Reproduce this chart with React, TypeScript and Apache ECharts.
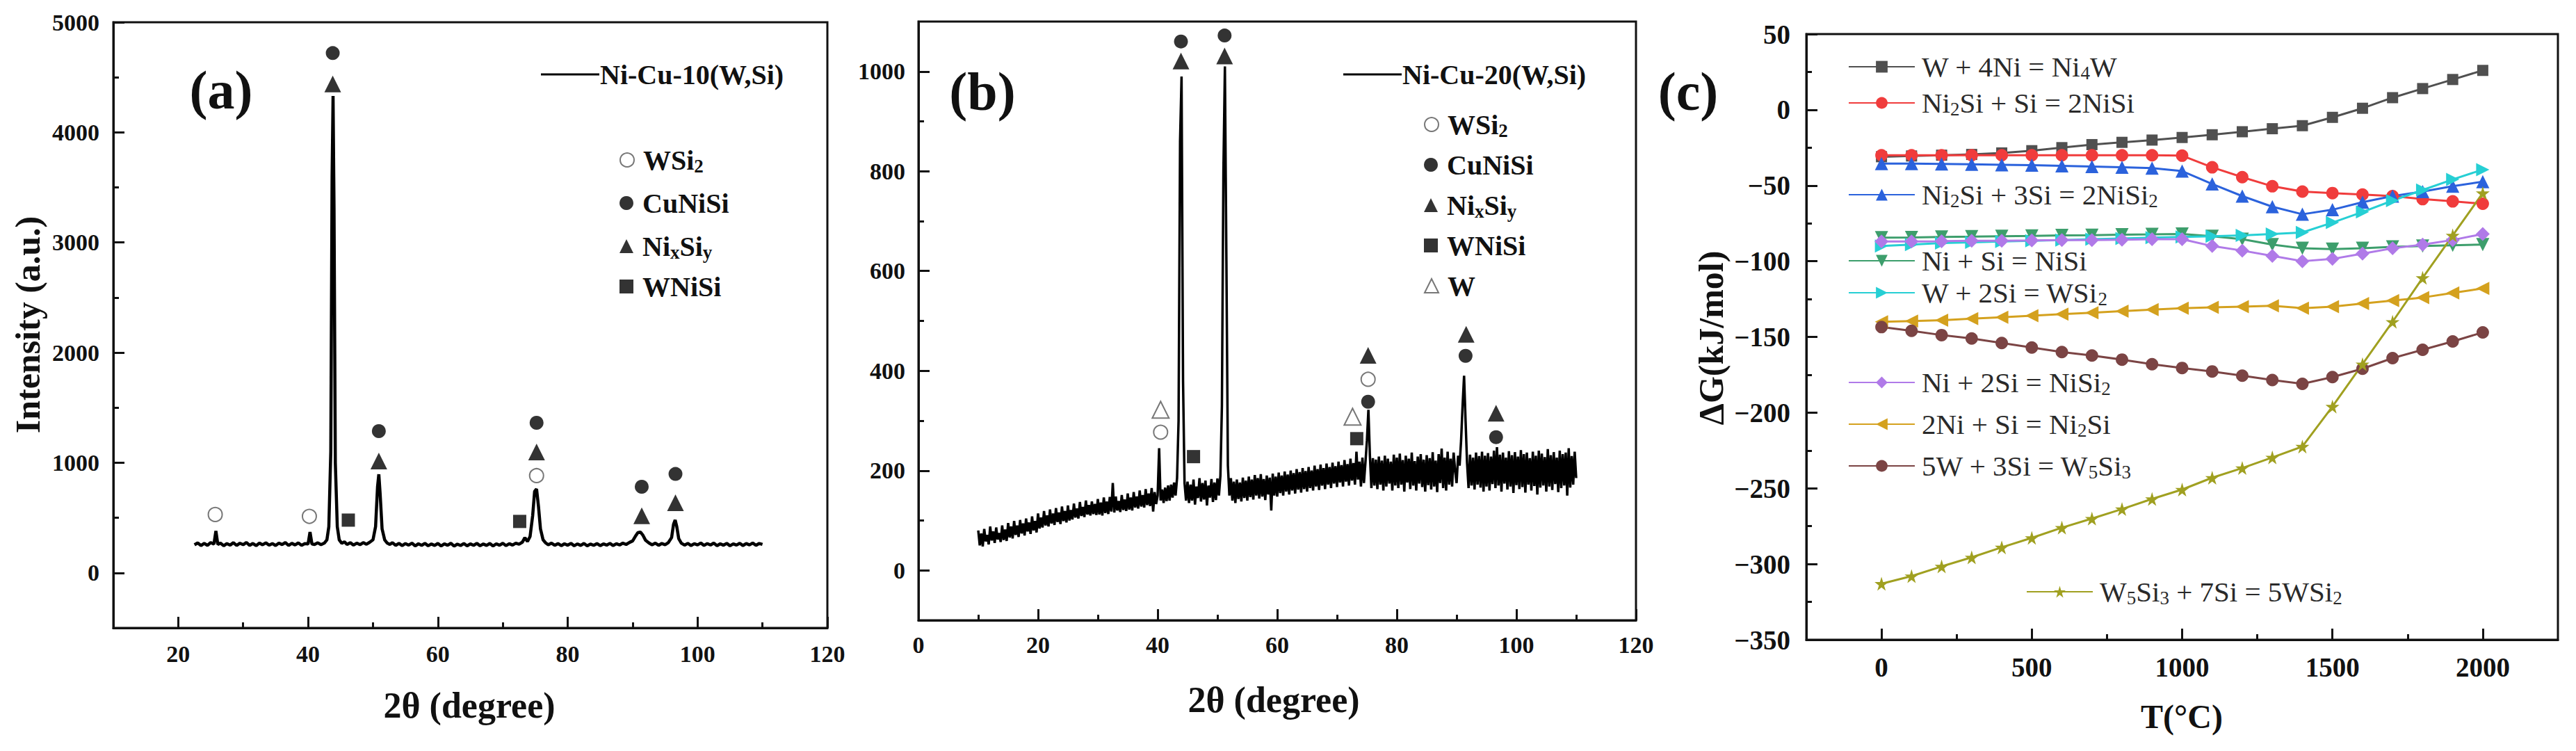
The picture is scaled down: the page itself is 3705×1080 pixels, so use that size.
import React, { useEffect, useRef } from "react";
import * as echarts from "echarts";

const SERIF = '"Liberation Serif", "Times New Roman", "DejaVu Serif", serif';
const INK = "#111111";

// ---------------- Panel (a): XRD of Ni-Cu-10(W,Si) ----------------
const A_LINE_NAME = "Ni-Cu-10(W,Si)";
const A_PATTERN: [number, number][] = [
  [22.5,255],[23,272],[23.5,248],[24,268],[24.5,250],[25,275],[25.5,262],[25.8,380],[26.1,258],[26.5,270],
  [27,246],[27.5,266],[28,252],[28.5,274],[29,249],[29.5,269],[30,256],[30.5,276],[31,250],[31.5,267],
  [32,247],[32.5,271],[33,255],[33.5,273],[34,251],[34.5,266],[35,248],[35.5,270],[36,257],[36.5,275],
  [37,249],[37.5,268],[38,254],[38.5,272],[39,250],[39.5,265],[40,262],[40.3,370],[40.6,262],[41,258],
  [41.5,273],[42,256],[42.5,270],[42.9,300],[43.2,420],[43.5,1100],[43.7,3600],[43.85,4330],[44,3300],[44.2,1000],
  [44.5,420],[44.8,300],[45.2,268],[45.6,282],[46,258],[46.5,274],[47,252],[47.5,270],[48,256],[48.5,275],
  [49,260],[49.5,278],[50,300],[50.4,420],[50.7,780],[50.9,895],[51.1,720],[51.4,400],[51.8,300],[52.2,270],
  [52.6,258],[53,274],[53.5,250],[54,268],[54.5,247],[55,266],[55.5,252],[56,270],[56.5,245],[57,264],
  [57.5,250],[58,268],[58.5,246],[59,262],[59.5,249],[60,267],[60.5,244],[61,263],[61.5,251],[62,269],
  [62.5,243],[63,261],[63.5,248],[64,266],[64.5,245],[65,263],[65.5,250],[66,268],[66.5,246],[67,262],
  [67.5,249],[68,267],[68.5,244],[69,264],[69.5,251],[70,269],[70.5,247],[71,265],[71.5,252],[72,270],
  [72.5,260],[73,278],[73.4,320],[73.8,285],[74.2,330],[74.6,520],[74.9,740],[75.2,762],[75.5,600],[75.8,400],
  [76.2,300],[76.6,272],[77,255],[77.5,270],[78,250],[78.5,266],[79,247],[79.5,264],[80,251],[80.5,268],
  [81,246],[81.5,263],[82,249],[82.5,267],[83,245],[83.5,262],[84,250],[84.5,266],[85,247],[85.5,263],
  [86,252],[86.5,268],[87,248],[87.5,265],[88,253],[88.5,270],[89,258],[89.5,276],[90,290],[90.4,330],
  [90.8,365],[91.2,370],[91.6,340],[92,295],[92.5,272],[93,255],[93.5,270],[94,250],[94.5,267],[95,256],
  [95.5,275],[96,320],[96.3,440],[96.55,480],[96.8,420],[97.1,310],[97.5,270],[98,252],[98.5,268],[99,248],
  [99.5,265],[100,254],[100.5,271],[101,249],[101.5,266],[102,253],[102.5,270],[103,247],[103.5,264],[104,251],
  [104.5,268],[105,246],[105.5,263],[106,252],[106.5,269],[107,248],[107.5,266],[108,254],[108.5,271],[109,250],
  [109.5,267],[110,258],
];
const A_WSI2: [number, number][] = [[25.7,530],[40.2,513],[75.2,883]];
const A_CUNISI: [number, number][] = [[43.8,4720],[50.9,1287],[75.2,1363],[91.4,782],[96.6,898]];
const A_NIXSIY: [number, number][] = [[43.8,4440],[50.9,1015],[75.2,1098],[91.4,519],[96.6,637]];
const A_WNISI: [number, number][] = [[46.2,479],[72.6,467]];
const A_X_TICKS = [20, 40, 60, 80, 100, 120];
const A_X_MINOR = [30, 50, 70, 90, 110];
const A_Y_TICKS = [0, 1000, 2000, 3000, 4000, 5000];
const A_Y_MINOR = [500, 1500, 2500, 3500, 4500];

// ---------------- Panel (b): XRD of Ni-Cu-20(W,Si) ----------------
const B_LINE_NAME = "Ni-Cu-20(W,Si)";
const B_SCAN_START = 10;
const B_SCAN_STEP = 0.25;
const B_INTENSITY = [
  80,50,74,48,83,58,71,52,88,60,78,55,86,62,75,57,90,61,82,59,
  95,66,88,64,99,71,90,67,101,74,94,70,104,78,96,73,108,80,99,76,
  114,84,106,86,119,90,110,88,122,94,114,91,125,97,116,93,128,99,119,96,
  130,100,121,102,134,106,124,104,137,109,127,107,140,112,131,110,138,113,133,111,
  143,112,136,110,146,115,138,113,147,118,175,116,148,120,139,117,151,121,142,119,
  154,122,146,120,157,126,148,124,160,128,151,126,163,131,154,129,165,118,157,133,
  150,245,140,162,135,166,139,170,140,172,146,176,150,185,300,860,990,380,175,140,
  178,135,172,140,182,132,168,145,185,138,175,142,180,130,170,146,183,137,176,141,
  184,150,190,330,800,1010,620,210,150,185,140,178,135,182,143,176,138,186,145,180,
  140,188,147,182,142,191,150,185,144,193,148,183,141,190,152,186,120,194,150,188,
  148,196,155,190,150,198,158,192,152,200,160,195,154,203,162,197,156,205,163,199,
  158,207,165,200,160,210,168,203,161,212,170,205,163,214,172,207,165,216,174,209,
  167,218,176,211,168,221,178,213,170,224,180,215,172,238,182,218,168,226,175,215,
  260,322,230,165,225,170,222,163,228,172,220,160,230,168,224,174,218,160,232,170,
  226,165,234,172,221,158,230,176,224,163,236,170,219,160,228,174,233,167,222,158,
  231,171,225,162,237,168,220,157,233,175,244,165,226,160,238,172,224,168,236,200,
  175,230,210,260,330,390,300,215,165,232,170,226,162,236,172,229,166,238,158,230,
  168,235,160,228,173,240,165,247,170,232,158,236,174,226,162,239,168,231,155,237,
  171,228,163,241,167,233,156,236,172,225,160,238,169,230,152,240,166,234,170,227,
  158,243,168,231,161,237,173,226,157,240,165,233,170,236,150,245,166,229,172,238,
  185,
];
const B_WSI2: [number, number][] = [[40.5,277],[75.2,383]];
const B_CUNISI: [number, number][] = [[43.9,1060],[51.2,1072],[75.2,338],[91.5,430],[96.6,267]];
const B_NIXSIY: [number, number][] = [[43.9,1021],[51.2,1031],[75.2,431],[91.6,473],[96.6,315]];
const B_WNISI: [number, number][] = [[46.0,228],[73.3,264]];
const B_W: [number, number][] = [[40.5,322],[72.6,308]];
const B_X_TICKS = [0, 20, 40, 60, 80, 100, 120];
const B_X_MINOR = [10, 30, 50, 70, 90, 110];
const B_Y_TICKS = [0, 200, 400, 600, 800, 1000];
const B_Y_MINOR = [100, 300, 500, 700, 900];

// ---------------- Panel (c): Gibbs free energy vs temperature ----------------
const T_VALUES = [0,100,200,300,400,500,600,700,800,900,1000,1100,1200,1300,1400,1500,1600,1700,1800,1900,2000];
const G_NI4W = [-31,-30.5,-30,-29.5,-28.5,-27,-25,-23,-21.5,-20,-18.3,-16.5,-14.5,-12.5,-10.5,-5,1,8,14,20,26];
const G_NISI_FROM_NI2SI = [-30,-30,-30,-30,-30,-30,-30,-30,-30,-30,-30.3,-38,-44.5,-50.5,-54,-55,-56,-57,-59,-60.5,-62];
const G_NISI2_FROM_NI2SI = [-35.5,-35.5,-35.8,-36,-36.3,-36.6,-37,-37.5,-38,-38.5,-40.5,-49,-57,-64,-69,-66,-61,-57,-54,-50.5,-47.5];
const G_NISI = [-84.5,-84.3,-84,-83.8,-83.5,-83.3,-83,-82.8,-82.5,-82.3,-82,-83.5,-85.5,-89,-91.5,-92,-91.5,-90.5,-90,-89.5,-89];
const G_WSI2 = [-90,-89,-88,-87.5,-87,-86.5,-86,-85.5,-85,-84.5,-84,-83.5,-83,-82,-81,-74.5,-67.5,-60,-53,-46,-39.5];
const G_NISI2 = [-87,-87,-86.8,-86.5,-86.5,-86.3,-86,-86,-85.8,-85.5,-85.5,-90,-93,-96.5,-100,-98.5,-95,-91.5,-89,-86,-82];
const G_NI2SI = [-140,-139.5,-139,-138,-137,-136,-135,-134,-133,-132,-131,-130.5,-130,-129.5,-131,-130,-128,-126,-124,-121,-118];
const G_W5SI3 = [-143.5,-146,-148.8,-151,-154,-157,-160,-162.3,-165,-168,-170.5,-172.8,-175.6,-178.5,-181,-176.5,-171,-164,-158.5,-153,-147];
const G_WSI2_FROM_W5SI3 = [-313,-308,-301.6,-295.6,-289,-282.7,-276,-270,-263.7,-257,-250.8,-243,-236.6,-229.6,-222.4,-196,-168,-140,-111,-83,-55];
const C_X_TICKS = [0, 500, 1000, 1500, 2000];
const C_X_MINOR = [250, 750, 1250, 1750];
const C_Y_TICKS = [-350, -300, -250, -200, -150, -100, -50, 0, 50];
const C_Y_MINOR = [-325, -275, -225, -175, -125, -75, -25, 25];

const STAR = "path://M50,0 L61,35 L98,35 L68,57 L79,91 L50,70 L21,91 L32,57 L2,35 L39,35 Z";

const C_SERIES = [
  { name: "W + 4Ni = Ni4W", rich: "W + 4Ni = Ni{s|4}W", color: "#505050", symbol: "rect", rotate: 0, size: 16, values: G_NI4W },
  { name: "Ni2Si + Si = 2NiSi", rich: "Ni{s|2}Si + Si = 2NiSi", color: "#f03c3c", symbol: "circle", rotate: 0, size: 18, values: G_NISI_FROM_NI2SI },
  { name: "Ni2Si + 3Si = 2NiSi2", rich: "Ni{s|2}Si + 3Si = 2NiSi{s|2}", color: "#2b62dc", symbol: "triangle", rotate: 0, size: 19, values: G_NISI2_FROM_NI2SI },
  { name: "Ni + Si = NiSi", rich: "Ni + Si = NiSi", color: "#3d9e6c", symbol: "triangle", rotate: 180, size: 19, values: G_NISI },
  { name: "W + 2Si = WSi2", rich: "W + 2Si = WSi{s|2}", color: "#26cfd4", symbol: "triangle", rotate: -90, size: 19, values: G_WSI2 },
  { name: "Ni + 2Si = NiSi2", rich: "Ni + 2Si = NiSi{s|2}", color: "#b07ae8", symbol: "diamond", rotate: 0, size: 20, values: G_NISI2 },
  { name: "2Ni + Si = Ni2Si", rich: "2Ni + Si = Ni{s|2}Si", color: "#d4a11e", symbol: "triangle", rotate: 90, size: 19, values: G_NI2SI },
  { name: "5W + 3Si = W5Si3", rich: "5W + 3Si = W{s|5}Si{s|3}", color: "#7b4444", symbol: "circle", rotate: 0, size: 18, values: G_W5SI3 },
  { name: "W5Si3 + 7Si = 5WSi2", rich: "W{s|5}Si{s|3} + 7Si = 5WSi{s|2}", color: "#a0a020", symbol: STAR, rotate: 0, size: 20, values: G_WSI2_FROM_W5SI3 },
];
// legend anchor positions (left px, center y px) for panel (c)
const C_LEGEND_POS: [number, number][] = [
  [2658, 96], [2658, 148], [2658, 280], [2658, 375], [2658, 421], [2658, 550], [2658, 610], [2658, 670], [2914, 851],
];

const MARKER_DISPLAY: Record<string, string> = {
  "a-WSi2": "WSi{s|2}", "a-CuNiSi": "CuNiSi", "a-NixSiy": "Ni{s|x}Si{s|y}", "a-WNiSi": "WNiSi",
  "b-WSi2": "WSi{s|2}", "b-CuNiSi": "CuNiSi", "b-NixSiy": "Ni{s|x}Si{s|y}", "b-WNiSi": "WNiSi", "b-W": "W",
};

function axes(dim: "x" | "y", grid: number, min: number, max: number, major: number[], minor: number[], fontSize: number, margin: number, majorLen: number, minorLen: number) {
  const pos = dim === "x" ? "bottom" : "left";
  const common = { type: "value", gridIndex: grid, min, max, position: pos, splitLine: { show: false } };
  return [
    {
      ...common,
      axisLine: { show: true, onZero: false, lineStyle: { color: INK, width: 3 } },
      axisTick: { show: true, inside: true, length: majorLen, customValues: major, lineStyle: { color: INK, width: 3 } },
      axisLabel: {
        show: true, customValues: major, margin, color: INK, fontFamily: SERIF, fontSize, fontWeight: "bold",
        formatter: (v: number) => String(v).replace("-", "\u2212"),
      },
    },
    {
      ...common,
      axisLine: { show: false, onZero: false },
      axisTick: { show: true, inside: true, length: minorLen, customValues: minor, lineStyle: { color: INK, width: 3 } },
      axisLabel: { show: false },
    },
  ];
}

function scatter(name: string, data: [number, number][], axisIdx: number, symbol: string, color: string, size: number) {
  return {
    type: "scatter", name, data, xAxisIndex: axisIdx, yAxisIndex: axisIdx, symbol, symbolSize: size,
    itemStyle: { color, borderWidth: symbol.startsWith("empty") ? 2 : 0 }, z: 5,
  };
}

function App() {
  const ref = useRef<HTMLDivElement>(null);
  useEffect(() => {
    document.body.style.margin = "0";
    const chart = echarts.init(ref.current!, null, { renderer: "svg" });

    const bPattern = B_INTENSITY.map((v, i) => [B_SCAN_START + i * B_SCAN_STEP, v]);

    const xAxis = [
      ...axes("x", 0, 10, 120, A_X_TICKS, A_X_MINOR, 34, 20, 16, 8),
      ...axes("x", 1, 0, 120, B_X_TICKS, B_X_MINOR, 34, 18, 16, 8),
      ...axes("x", 2, -250, 2250, C_X_TICKS, C_X_MINOR, 39, 20, 16, 8),
    ];
    const yAxis = [
      ...axes("y", 0, -500, 5000, A_Y_TICKS, A_Y_MINOR, 34, 20, 16, 8),
      ...axes("y", 1, -100, 1100, B_Y_TICKS, B_Y_MINOR, 34, 19, 16, 8),
      ...axes("y", 2, -350, 50, C_Y_TICKS, C_Y_MINOR, 39, 23, 16, 8),
    ];

    const gridBase = { show: true, borderColor: INK, borderWidth: 3, backgroundColor: "transparent", containLabel: false, outerBoundsMode: "none" };
    const grid = [
      { ...gridBase, left: 163, top: 32, width: 1027, height: 871 },
      { ...gridBase, left: 1321, top: 31, width: 1032, height: 861 },
      { ...gridBase, left: 2598, top: 49, width: 1081, height: 871 },
    ];

    const series: any[] = [
      { type: "line", name: A_LINE_NAME, data: A_PATTERN, xAxisIndex: 0, yAxisIndex: 0, symbol: "none", showSymbol: false, lineStyle: { color: "#000", width: 4.5 }, itemStyle: { color: "#000" } },
      scatter("a-WSi2", A_WSI2, 0, "emptyCircle", "#555", 20),
      scatter("a-CuNiSi", A_CUNISI, 0, "circle", "#000", 20),
      scatter("a-NixSiy", A_NIXSIY, 0, "triangle", "#000", 24),
      scatter("a-WNiSi", A_WNISI, 0, "rect", "#000", 19),
      { type: "line", name: B_LINE_NAME, data: bPattern, xAxisIndex: 2, yAxisIndex: 2, symbol: "none", showSymbol: false, lineStyle: { color: "#000", width: 3.5 }, itemStyle: { color: "#000" } },
      scatter("b-WSi2", B_WSI2, 2, "emptyCircle", "#555", 20),
      scatter("b-CuNiSi", B_CUNISI, 2, "circle", "#000", 20),
      scatter("b-NixSiy", B_NIXSIY, 2, "triangle", "#000", 24),
      scatter("b-WNiSi", B_WNISI, 2, "rect", "#000", 19),
      scatter("b-W", B_W, 2, "emptyTriangle", "#555", 24),
      ...C_SERIES.map((s) => ({
        type: "line", name: s.name, xAxisIndex: 4, yAxisIndex: 4,
        data: T_VALUES.map((t, i) => [t, s.values[i]]),
        symbol: s.symbol, symbolRotate: s.rotate, symbolSize: s.size, showSymbol: true,
        lineStyle: { color: s.color, width: 3 }, itemStyle: { color: s.color },
      })),
    ];

    const richSub = (fs: number, weight: string, pad: number, lh: number, color: string) => ({
      s: { fontFamily: SERIF, fontSize: fs, fontWeight: weight, color, padding: [pad, 0, 0, 0], lineHeight: lh },
    });

    const legend: any[] = [];
    const LH_AB = 46;
    const abText = (padLeft: number) => ({
      fontFamily: SERIF, fontSize: 40, fontWeight: "bold", color: INK, lineHeight: LH_AB, padding: [0, 0, 0, padLeft],
      rich: richSub(27, "bold", 18, LH_AB, INK),
    });
    // line legends
    [[A_LINE_NAME, 778], [B_LINE_NAME, 1932]].forEach(([name, left]) => {
      legend.push({
        data: [name], left, top: 107 - LH_AB / 2, padding: 0, itemGap: 0, selectedMode: false,
        icon: "rect", itemWidth: 84, itemHeight: 3, textStyle: abText(-4),
      });
    });
    // marker legends
    const markerRows: [string, number, number][] = [
      ["a-WSi2", 891, 230], ["a-CuNiSi", 891, 292], ["a-NixSiy", 891, 354], ["a-WNiSi", 891, 412],
      ["b-WSi2", 2048, 179], ["b-CuNiSi", 2048, 237], ["b-NixSiy", 2048, 295], ["b-WNiSi", 2048, 353], ["b-W", 2048, 411],
    ];
    markerRows.forEach(([name, left, cy]) => {
      legend.push({
        data: [name], left, top: cy - LH_AB / 2, padding: 0, itemGap: 0, selectedMode: false,
        itemWidth: 20, itemHeight: 20, formatter: (n: string) => MARKER_DISPLAY[n] ?? n, textStyle: abText(8),
      });
    });
    // panel (c) legends
    const LH_C = 46;
    C_SERIES.forEach((s, i) => {
      const [left, cy] = C_LEGEND_POS[i];
      legend.push({
        data: [s.name], left, top: cy - LH_C / 2, padding: 0, itemGap: 0, selectedMode: false,
        itemWidth: 95, itemHeight: 21,
        formatter: () => s.rich,
        textStyle: {
          fontFamily: SERIF, fontSize: 41, fontWeight: "normal", color: "#2a2a2a", lineHeight: LH_C, padding: [0, 0, 0, 5],
          rich: richSub(27, "normal", 18, LH_C, "#2a2a2a"),
        },
      });
    });

    const txt = (text: string, x: number, y: number, size: number, rotation = 0) => ({
      type: "text", x, y, rotation,
      style: { text, fill: INK, fontFamily: SERIF, fontSize: size, fontWeight: "bold", align: "center", verticalAlign: "middle" },
    });
    const graphic = [
      txt("(a)", 318, 129, 78),
      txt("(b)", 1413, 131, 78),
      txt("(c)", 2428, 131, 78),
      txt("Intensity (a.u.)", 40, 467, 50, Math.PI / 2),
      txt("2\u03b8 (degree)", 675, 1014, 52),
      txt("2\u03b8 (degree)", 1832, 1006, 52),
      txt("\u0394G(kJ/mol)", 2461, 486, 50, Math.PI / 2),
      txt("T(\u00b0C)", 3138, 1030, 48),
    ];

    chart.setOption({
      animation: false,
      backgroundColor: "#fff",
      textStyle: { fontFamily: SERIF },
      grid, xAxis, yAxis, series, legend, graphic,
    });
    return () => chart.dispose();
  }, []);
  return <div ref={ref} style={{ width: 3705, height: 1080, background: "#fff" }} />;
}

export default App;
